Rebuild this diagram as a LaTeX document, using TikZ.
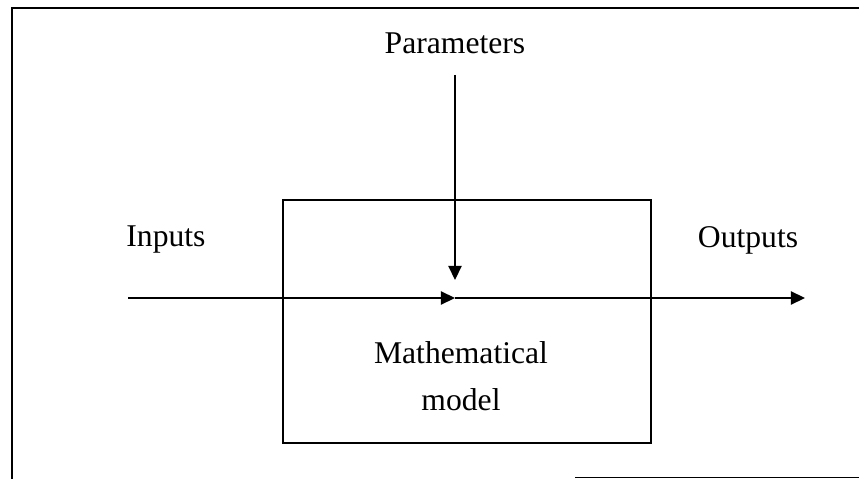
\documentclass[tikz,border=0pt]{standalone}
\usepackage{fontspec}
\setmainfont{Liberation Serif}
\usetikzlibrary{arrows.meta}

\begin{document}
\begin{tikzpicture}[
    >={Triangle[length=8pt,width=7.5pt]},
    label/.style={font=\fontsize{18}{27}\selectfont, inner sep=0pt},
    flow/.style={->, line width=0.9pt}
]

\useasboundingbox (0,0) rectangle (17.18,9.58);

% Marc

\draw[
    line width=1.1pt
] (17.18,9.42) -| (0.24,0);

\draw[
    line width=1.1pt
] (11.5,0.03) -- (17.18,0.03);


% Model

\node[
    draw,
    line width=1.1pt,
    minimum width=7.36cm,
    minimum height=4.86cm
] (box) at (9.34,3.15) {};

\node[label, align=center] (model) at (9.22,2.06) {Mathematical\\model};


% Etiquetes

\node[label] (params) at (9.1,8.72) {Parameters};
\node[label] (inputs) at (3.32,4.78) {Inputs};
\node[label] (outputs) at (14.96,4.78) {Outputs};


% Fletxes

\coordinate (in) at (2.56,3.62);
\coordinate (mid) at (9.1,3.62);
\coordinate (out) at (16.1,3.62);
\coordinate (ptop) at (9.1,8.08);
\coordinate (ptip) at (9.1,3.98);

\draw[flow] (in) -- (mid);
\draw[flow] (mid) -- (out);
\draw[flow] (ptop) -- (ptip);

\end{tikzpicture}
\end{document}
